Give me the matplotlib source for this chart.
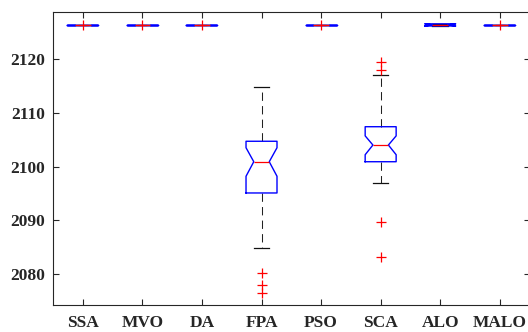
import numpy as np
import matplotlib.pyplot as plt

# algorithms on the x axis
labels = ['SSA', 'MVO', 'DA', 'FPA', 'PSO', 'SCA', 'ALO', 'MALO']

# box statistics
q1 = [2126.3, 2126.3, 2126.3, 2095.1, 2126.3, 2100.9, 2126.1, 2126.3]
med = [2126.3, 2126.3, 2126.3, 2100.9, 2126.3, 2104.0, 2126.3, 2126.3]
q3 = [2126.3, 2126.3, 2126.3, 2104.7, 2126.3, 2107.4, 2126.5, 2126.3]
whislo = [2126.3, 2126.3, 2126.3, 2084.8, 2126.3, 2097.0, 2126.1, 2126.3]
whishi = [2126.3, 2126.3, 2126.3, 2114.8, 2126.3, 2117.0, 2126.5, 2126.3]
cilo = [2126.3, 2126.3, 2126.3, 2098.2, 2126.3, 2102.2, 2126.1, 2126.3]
cihi = [2126.3, 2126.3, 2126.3, 2103.5, 2126.3, 2105.7, 2126.5, 2126.3]
fliers = [[2126.3], [2126.3], [2126.3],
          [2080.2, 2078.1, 2076.6],
          [2126.3],
          [2119.4, 2117.9, 2089.7, 2083.3],
          [],
          [2126.3]]

stats = []
for i in range(len(labels)):
    stats.append(dict(label=labels[i], q1=q1[i], med=med[i], q3=q3[i],
                      whislo=whislo[i], whishi=whishi[i],
                      cilo=cilo[i], cihi=cihi[i], fliers=fliers[i]))

plt.rcParams['font.family'] = ['Liberation Serif', 'DejaVu Serif']
plt.rcParams['font.weight'] = 'bold'

fig = plt.figure(figsize=(5.28, 3.32), dpi=100)
ax = fig.add_axes([0.1004, 0.0813, 0.9026, 0.8826])

ax.bxp(stats, shownotches=True, widths=0.52,
       boxprops=dict(color='#0000ff', linewidth=1.0, zorder=3),
       medianprops=dict(color='#ff0000', linewidth=0.9, zorder=3.5),
       whiskerprops=dict(color='#222222', linewidth=0.75, linestyle=(0, (8, 5))),
       capprops=dict(color='#111111', linewidth=0.9),
       flierprops=dict(marker='+', markeredgecolor='#ff0000', markersize=7,
                       markeredgewidth=0.9, linestyle='none', zorder=4))

ax.set_xlim(0.5, 8.5)
ax.set_ylim(2074.3, 2128.7)
ax.set_yticks([2080, 2090, 2100, 2110, 2120])
ax.tick_params(direction='in', top=True, right=True, length=4, width=0.8,
               labelsize=12.5, colors='#262626')
ax.tick_params(axis='x', pad=7.5)
ax.tick_params(axis='y', pad=5.5)
for lab in ax.get_xticklabels() + ax.get_yticklabels():
    lab.set_fontweight('bold')
for s in ax.spines.values():
    s.set_color('#262626')
    s.set_linewidth(0.8)

fig.savefig('out.png', dpi=100)
